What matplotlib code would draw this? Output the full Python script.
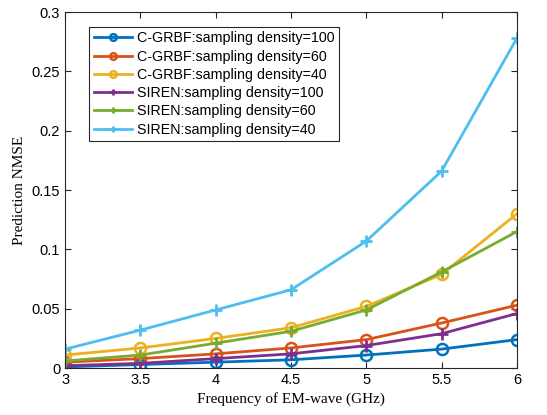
import matplotlib.pyplot as plt

freq = [3, 3.5, 4, 4.5, 5, 5.5, 6]

grbf_100 = [0.001, 0.003, 0.005, 0.007, 0.011, 0.016, 0.024]
grbf_60 = [0.005, 0.008, 0.012, 0.017, 0.024, 0.038, 0.053]
grbf_40 = [0.011, 0.017, 0.025, 0.034, 0.052, 0.079, 0.130]
siren_100 = [0.002, 0.004, 0.008, 0.012, 0.019, 0.029, 0.046]
siren_60 = [0.006, 0.011, 0.021, 0.031, 0.049, 0.081, 0.115]
siren_40 = [0.016, 0.032, 0.049, 0.066, 0.107, 0.166, 0.278]

labels = ['C-GRBF:sampling density=100', 'C-GRBF:sampling density=60',
          'C-GRBF:sampling density=40', 'SIREN:sampling density=100',
          'SIREN:sampling density=60', 'SIREN:sampling density=40']
colors = ['#0072BD', '#D95319', '#EDB120', '#7E2F8E', '#77AC30', '#4DBEEE']

plt.rcParams['font.family'] = ['Liberation Sans', 'DejaVu Sans']

fig = plt.figure(figsize=(5.47, 4.15), dpi=100)
ax = fig.add_axes([0.119, 0.113, 0.826, 0.858])

series = [grbf_100, grbf_60, grbf_40, siren_100, siren_60, siren_40]
for i, (vals, lab, c) in enumerate(zip(series, labels, colors)):
    if i < 3:
        ax.plot(freq, vals, '-o', color=c, lw=2, ms=8, mfc='none', mew=1.8, label=lab)
    else:
        ax.plot(freq, vals, '-+', color=c, lw=2, ms=8, mew=2, label=lab)

ax.set_xlim(3, 6)
ax.set_ylim(0, 0.3)
ax.set_xticks([3, 3.5, 4, 4.5, 5, 5.5, 6])
ax.set_xticklabels(['3', '3.5', '4', '4.5', '5', '5.5', '6'])
ax.set_yticks([0, 0.05, 0.1, 0.15, 0.2, 0.25, 0.3])
ax.set_yticklabels(['0', '0.05', '0.1', '0.15', '0.2', '0.25', '0.3'])
ax.tick_params(direction='in', top=True, right=True, labelsize=10.5, length=4, color='#262626')
for s in ax.spines.values():
    s.set_color('#262626')
    s.set_linewidth(0.8)

ax.set_xlabel('Frequency of EM-wave (GHz)', family='Liberation Serif', fontsize=11)
ax.set_ylabel('Prediction NMSE', family='Liberation Serif', fontsize=11)

leg = ax.legend(loc='upper left', bbox_to_anchor=(0.038, 0.978), fontsize=10.3,
                fancybox=False, edgecolor='#262626', framealpha=1,
                handlelength=2.7, labelspacing=0.3, borderpad=0.3,
                handletextpad=0.3, markerscale=0.6)
leg.get_frame().set_linewidth(0.8)

fig.savefig('out.png', dpi=100)
